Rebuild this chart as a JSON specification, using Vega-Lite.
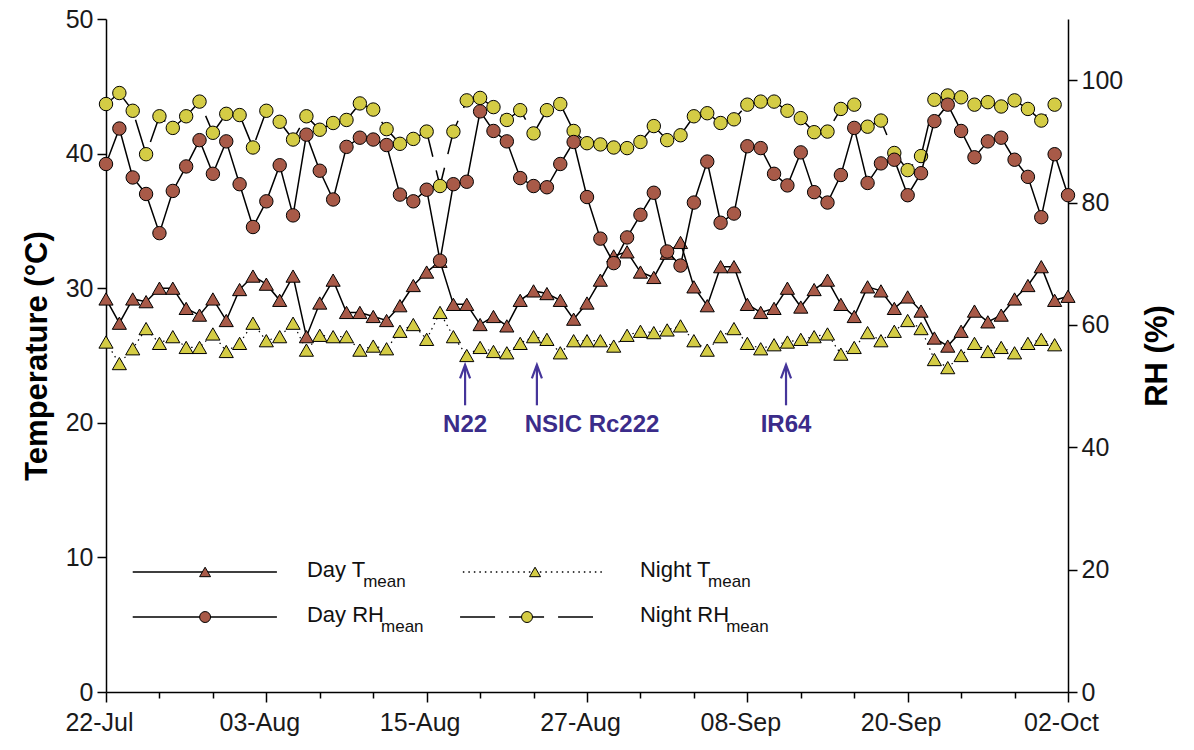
{
  "$schema": "https://vega.github.io/schema/vega-lite/v6.json",
  "width": 962,
  "height": 673,
  "autosize": "none",
  "padding": {"left": 106, "top": 19, "right": 126, "bottom": 58},
  "background": "white",
  "config": {
    "view": {"stroke": null},
    "font": "Liberation Sans",
    "axis": {"grid": false, "domainColor": "#000", "domainWidth": 1.5, "tickColor": "#000", "tickWidth": 1.5, "labelColor": "#1a1a1a", "titleColor": "#000", "labelFont": "Liberation Sans", "titleFont": "Liberation Sans", "labelFontSize": 25, "titleFontSize": 31, "titleFontWeight": "bold"}
  },
  "datasets": {
    "daily": [
      {"date": "2013-07-22T00:00", "dayT": 29.2, "nightT": 26.0, "dayRH": 86.3, "nightRH": 96.1},
      {"date": "2013-07-23T00:00", "dayT": 27.4, "nightT": 24.4, "dayRH": 92.1, "nightRH": 97.9},
      {"date": "2013-07-24T00:00", "dayT": 29.2, "nightT": 25.5, "dayRH": 84.1, "nightRH": 95.0},
      {"date": "2013-07-25T00:00", "dayT": 29.0, "nightT": 27.0, "dayRH": 81.4, "nightRH": 87.9},
      {"date": "2013-07-26T00:00", "dayT": 30.0, "nightT": 25.9, "dayRH": 75.0, "nightRH": 94.1},
      {"date": "2013-07-27T00:00", "dayT": 30.0, "nightT": 26.4, "dayRH": 81.9, "nightRH": 92.2},
      {"date": "2013-07-28T00:00", "dayT": 28.5, "nightT": 25.6, "dayRH": 85.9, "nightRH": 94.1},
      {"date": "2013-07-29T00:00", "dayT": 28.0, "nightT": 25.6, "dayRH": 90.2, "nightRH": 96.5},
      {"date": "2013-07-30T00:00", "dayT": 29.2, "nightT": 26.6, "dayRH": 84.7, "nightRH": 91.4},
      {"date": "2013-07-31T00:00", "dayT": 27.6, "nightT": 25.3, "dayRH": 90.0, "nightRH": 94.5},
      {"date": "2013-08-01T00:00", "dayT": 29.9, "nightT": 25.9, "dayRH": 83.0, "nightRH": 94.3},
      {"date": "2013-08-02T00:00", "dayT": 30.9, "nightT": 27.4, "dayRH": 76.0, "nightRH": 89.0},
      {"date": "2013-08-03T00:00", "dayT": 30.3, "nightT": 26.1, "dayRH": 80.2, "nightRH": 95.0},
      {"date": "2013-08-04T00:00", "dayT": 29.1, "nightT": 26.4, "dayRH": 86.1, "nightRH": 93.2},
      {"date": "2013-08-05T00:00", "dayT": 30.9, "nightT": 27.4, "dayRH": 77.9, "nightRH": 90.3},
      {"date": "2013-08-06T00:00", "dayT": 26.4, "nightT": 25.4, "dayRH": 91.1, "nightRH": 94.1},
      {"date": "2013-08-07T00:00", "dayT": 28.9, "nightT": 26.5, "dayRH": 85.2, "nightRH": 91.9},
      {"date": "2013-08-08T00:00", "dayT": 30.6, "nightT": 26.4, "dayRH": 80.5, "nightRH": 93.0},
      {"date": "2013-08-09T00:00", "dayT": 28.2, "nightT": 26.4, "dayRH": 89.1, "nightRH": 93.5},
      {"date": "2013-08-10T00:00", "dayT": 28.2, "nightT": 25.4, "dayRH": 90.6, "nightRH": 96.2},
      {"date": "2013-08-11T00:00", "dayT": 27.9, "nightT": 25.7, "dayRH": 90.3, "nightRH": 95.2},
      {"date": "2013-08-12T00:00", "dayT": 27.6, "nightT": 25.5, "dayRH": 89.4, "nightRH": 92.0},
      {"date": "2013-08-13T00:00", "dayT": 28.7, "nightT": 26.8, "dayRH": 81.3, "nightRH": 89.6},
      {"date": "2013-08-14T00:00", "dayT": 30.2, "nightT": 27.3, "dayRH": 80.2, "nightRH": 90.4},
      {"date": "2013-08-15T00:00", "dayT": 31.2, "nightT": 26.2, "dayRH": 82.1, "nightRH": 91.6},
      {"date": "2013-08-16T00:00", "dayT": 32.0, "nightT": 28.2, "dayRH": 70.5, "nightRH": 82.7},
      {"date": "2013-08-17T00:00", "dayT": 28.8, "nightT": 26.4, "dayRH": 83.0, "nightRH": 91.6},
      {"date": "2013-08-18T00:00", "dayT": 28.8, "nightT": 25.0, "dayRH": 83.4, "nightRH": 96.7},
      {"date": "2013-08-19T00:00", "dayT": 27.3, "nightT": 25.6, "dayRH": 94.9, "nightRH": 97.1},
      {"date": "2013-08-20T00:00", "dayT": 27.9, "nightT": 25.3, "dayRH": 91.7, "nightRH": 95.6},
      {"date": "2013-08-21T00:00", "dayT": 27.2, "nightT": 25.2, "dayRH": 90.0, "nightRH": 93.5},
      {"date": "2013-08-22T00:00", "dayT": 29.1, "nightT": 25.9, "dayRH": 84.0, "nightRH": 95.1},
      {"date": "2013-08-23T00:00", "dayT": 29.8, "nightT": 26.4, "dayRH": 82.7, "nightRH": 91.3},
      {"date": "2013-08-24T00:00", "dayT": 29.6, "nightT": 26.2, "dayRH": 82.5, "nightRH": 95.1},
      {"date": "2013-08-25T00:00", "dayT": 29.1, "nightT": 25.2, "dayRH": 86.3, "nightRH": 96.1},
      {"date": "2013-08-26T00:00", "dayT": 27.7, "nightT": 26.1, "dayRH": 89.9, "nightRH": 91.7},
      {"date": "2013-08-27T00:00", "dayT": 28.9, "nightT": 26.1, "dayRH": 80.9, "nightRH": 89.7},
      {"date": "2013-08-28T00:00", "dayT": 30.6, "nightT": 26.1, "dayRH": 74.1, "nightRH": 89.5},
      {"date": "2013-08-29T00:00", "dayT": 32.4, "nightT": 25.7, "dayRH": 70.1, "nightRH": 89.0},
      {"date": "2013-08-30T00:00", "dayT": 32.7, "nightT": 26.5, "dayRH": 74.3, "nightRH": 88.9},
      {"date": "2013-08-31T00:00", "dayT": 31.2, "nightT": 26.8, "dayRH": 78.0, "nightRH": 89.9},
      {"date": "2013-09-01T00:00", "dayT": 30.8, "nightT": 26.7, "dayRH": 81.6, "nightRH": 92.5},
      {"date": "2013-09-02T00:00", "dayT": 32.6, "nightT": 26.9, "dayRH": 72.0, "nightRH": 90.2},
      {"date": "2013-09-03T00:00", "dayT": 33.4, "nightT": 27.2, "dayRH": 69.7, "nightRH": 91.0},
      {"date": "2013-09-04T00:00", "dayT": 30.1, "nightT": 26.1, "dayRH": 80.0, "nightRH": 94.1},
      {"date": "2013-09-05T00:00", "dayT": 28.7, "nightT": 25.4, "dayRH": 86.7, "nightRH": 94.6},
      {"date": "2013-09-06T00:00", "dayT": 31.6, "nightT": 26.4, "dayRH": 76.7, "nightRH": 93.0},
      {"date": "2013-09-07T00:00", "dayT": 31.6, "nightT": 27.0, "dayRH": 78.2, "nightRH": 93.6},
      {"date": "2013-09-08T00:00", "dayT": 28.8, "nightT": 25.9, "dayRH": 89.2, "nightRH": 96.0},
      {"date": "2013-09-09T00:00", "dayT": 28.2, "nightT": 25.5, "dayRH": 88.9, "nightRH": 96.5},
      {"date": "2013-09-10T00:00", "dayT": 28.5, "nightT": 25.8, "dayRH": 84.7, "nightRH": 96.5},
      {"date": "2013-09-11T00:00", "dayT": 30.0, "nightT": 26.0, "dayRH": 82.8, "nightRH": 95.0},
      {"date": "2013-09-12T00:00", "dayT": 28.6, "nightT": 26.2, "dayRH": 88.2, "nightRH": 93.8},
      {"date": "2013-09-13T00:00", "dayT": 29.9, "nightT": 26.4, "dayRH": 81.7, "nightRH": 91.5},
      {"date": "2013-09-14T00:00", "dayT": 30.6, "nightT": 26.6, "dayRH": 80.0, "nightRH": 91.6},
      {"date": "2013-09-15T00:00", "dayT": 28.8, "nightT": 25.1, "dayRH": 84.5, "nightRH": 95.3},
      {"date": "2013-09-16T00:00", "dayT": 27.9, "nightT": 25.6, "dayRH": 92.2, "nightRH": 96.0},
      {"date": "2013-09-17T00:00", "dayT": 30.1, "nightT": 26.7, "dayRH": 83.2, "nightRH": 92.4},
      {"date": "2013-09-18T00:00", "dayT": 29.8, "nightT": 26.1, "dayRH": 86.4, "nightRH": 93.4},
      {"date": "2013-09-19T00:00", "dayT": 28.5, "nightT": 26.8, "dayRH": 87.0, "nightRH": 88.1},
      {"date": "2013-09-20T00:00", "dayT": 29.35, "nightT": 27.6, "dayRH": 81.2, "nightRH": 85.3},
      {"date": "2013-09-21T00:00", "dayT": 28.3, "nightT": 27.0, "dayRH": 84.8, "nightRH": 87.6},
      {"date": "2013-09-22T00:00", "dayT": 26.3, "nightT": 24.7, "dayRH": 93.3, "nightRH": 96.8},
      {"date": "2013-09-23T00:00", "dayT": 25.7, "nightT": 24.1, "dayRH": 96.0, "nightRH": 97.5},
      {"date": "2013-09-24T00:00", "dayT": 26.8, "nightT": 25.0, "dayRH": 91.7, "nightRH": 97.2},
      {"date": "2013-09-25T00:00", "dayT": 28.3, "nightT": 25.9, "dayRH": 87.4, "nightRH": 96.0},
      {"date": "2013-09-26T00:00", "dayT": 27.5, "nightT": 25.3, "dayRH": 90.0, "nightRH": 96.4},
      {"date": "2013-09-27T00:00", "dayT": 28.0, "nightT": 25.6, "dayRH": 90.6, "nightRH": 95.7},
      {"date": "2013-09-28T00:00", "dayT": 29.2, "nightT": 25.2, "dayRH": 87.0, "nightRH": 96.7},
      {"date": "2013-09-29T00:00", "dayT": 30.2, "nightT": 25.9, "dayRH": 84.2, "nightRH": 95.3},
      {"date": "2013-09-30T00:00", "dayT": 31.6, "nightT": 26.2, "dayRH": 77.6, "nightRH": 93.4},
      {"date": "2013-10-01T00:00", "dayT": 29.1, "nightT": 25.8, "dayRH": 87.9, "nightRH": 96.0},
      {"date": "2013-10-02T00:00", "dayT": 29.4, "nightT": null, "dayRH": 81.2, "nightRH": null}
    ],
    "annot": [
      {"label": "N22", "date": "2013-08-17T21:00", "textDate": "2013-08-17T21:00", "top": 24.2, "bottom": 21.3, "head": 23.8, "textT": 19.85},
      {"label": "NSIC Rc222", "date": "2013-08-23T06:00", "textDate": "2013-08-27T09:00", "top": 24.2, "bottom": 21.3, "head": 23.8, "textT": 19.85},
      {"label": "IR64", "date": "2013-09-10T21:30", "textDate": "2013-09-10T21:30", "top": 24.2, "bottom": 21.3, "head": 23.8, "textT": 19.85}
    ],
    "legLines": [
      {"series": "Day T", "start": "2013-07-24T00:00", "end": "2013-08-03T19:00", "T": 8.92},
      {"series": "Night T", "start": "2013-08-17T17:00", "end": "2013-08-28T08:30", "T": 8.92},
      {"series": "Day RH", "start": "2013-07-24T00:00", "end": "2013-08-03T19:00", "T": 5.57},
      {"series": "Night RH", "start": "2013-08-17T12:00", "end": "2013-08-27T10:45", "T": 5.57}
    ],
    "legSym": [
      {"series": "Day T", "date": "2013-07-29T10:00", "T": 8.92},
      {"series": "Night T", "date": "2013-08-23T02:40", "T": 8.92},
      {"series": "Day RH", "date": "2013-07-29T10:00", "T": 5.57},
      {"series": "Night RH", "date": "2013-08-22T12:15", "T": 5.57}
    ],
    "legText": [
      {"text": "Day T", "date": "2013-08-06T01:00", "T": 8.92, "kind": "main"},
      {"text": "mean", "date": "2013-08-10T06:00", "T": 8.92, "kind": "sub"},
      {"text": "Night T", "date": "2013-08-30T23:00", "T": 8.92, "kind": "main"},
      {"text": "mean", "date": "2013-09-05T01:30", "T": 8.92, "kind": "sub"},
      {"text": "Day RH", "date": "2013-08-06T01:00", "T": 5.57, "kind": "main"},
      {"text": "mean", "date": "2013-08-11T14:00", "T": 5.57, "kind": "sub"},
      {"text": "Night RH", "date": "2013-08-30T23:00", "T": 5.57, "kind": "main"},
      {"text": "mean", "date": "2013-09-06T10:00", "T": 5.57, "kind": "sub"}
    ]
  },
  "layer": [
    {
      "data": {"name": "daily"},
      "mark": {"type": "line", "stroke": "#000", "strokeWidth": 1.2, "strokeDash": [1.5, 4]},
      "encoding": {
        "x": {
          "field": "date", "type": "temporal",
          "scale": {"domain": [{"year": 2013, "month": 7, "date": 22}, {"year": 2013, "month": 10, "date": 2}]},
          "axis": {
            "orient": "bottom", "title": null, "labelOverlap": false, "labelFlush": false, "labelPadding": 8, "labelOffset": -7,
            "values": [
              {"year": 2013, "month": 7, "date": 22}, {"year": 2013, "month": 7, "date": 24}, {"year": 2013, "month": 7, "date": 26}, {"year": 2013, "month": 7, "date": 28}, {"year": 2013, "month": 7, "date": 30},
              {"year": 2013, "month": 8, "date": 1}, {"year": 2013, "month": 8, "date": 3}, {"year": 2013, "month": 8, "date": 5}, {"year": 2013, "month": 8, "date": 7}, {"year": 2013, "month": 8, "date": 9},
              {"year": 2013, "month": 8, "date": 11}, {"year": 2013, "month": 8, "date": 13}, {"year": 2013, "month": 8, "date": 15}, {"year": 2013, "month": 8, "date": 17}, {"year": 2013, "month": 8, "date": 19},
              {"year": 2013, "month": 8, "date": 21}, {"year": 2013, "month": 8, "date": 23}, {"year": 2013, "month": 8, "date": 25}, {"year": 2013, "month": 8, "date": 27}, {"year": 2013, "month": 8, "date": 29},
              {"year": 2013, "month": 8, "date": 31}, {"year": 2013, "month": 9, "date": 2}, {"year": 2013, "month": 9, "date": 4}, {"year": 2013, "month": 9, "date": 6}, {"year": 2013, "month": 9, "date": 8},
              {"year": 2013, "month": 9, "date": 10}, {"year": 2013, "month": 9, "date": 12}, {"year": 2013, "month": 9, "date": 14}, {"year": 2013, "month": 9, "date": 16}, {"year": 2013, "month": 9, "date": 18},
              {"year": 2013, "month": 9, "date": 20}, {"year": 2013, "month": 9, "date": 22}, {"year": 2013, "month": 9, "date": 24}, {"year": 2013, "month": 9, "date": 26}, {"year": 2013, "month": 9, "date": 28},
              {"year": 2013, "month": 9, "date": 30}, {"year": 2013, "month": 10, "date": 2}
            ],
            "labelExpr": "(round((datum.value - datetime(2013,6,22))/86400000) % 12 === 0) ? timeFormat(datum.value, '%d-%b') : ''",
            "tickSize": {"condition": {"test": "round((datum.value - datetime(2013,6,22))/86400000) % 12 === 0", "value": 10}, "value": 6}
          }
        },
        "y": {
          "field": "nightT", "type": "quantitative",
          "scale": {"domain": [0, 50], "nice": false},
          "axis": {"orient": "left", "values": [0, 10, 20, 30, 40, 50], "tickSize": 9, "labelPadding": 4, "title": "Temperature (°C)", "titlePadding": 12}
        }
      }
    },
    {
      "data": {"name": "daily"},
      "mark": {"type": "point", "shape": "triangle-up", "filled": true, "fill": "#d4cc45", "stroke": "#000", "strokeWidth": 1, "size": 200, "opacity": 1},
      "encoding": {
        "x": {"field": "date", "type": "temporal", "scale": {"domain": [{"year": 2013, "month": 7, "date": 22}, {"year": 2013, "month": 10, "date": 2}]}},
        "y": {"field": "nightT", "type": "quantitative", "scale": {"domain": [0, 50], "nice": false}, "axis": null}
      }
    },
    {
      "data": {"name": "daily"},
      "mark": {"type": "line", "stroke": "#000", "strokeWidth": 1.5},
      "encoding": {
        "x": {"field": "date", "type": "temporal", "scale": {"domain": [{"year": 2013, "month": 7, "date": 22}, {"year": 2013, "month": 10, "date": 2}]}},
        "y": {"field": "dayT", "type": "quantitative", "scale": {"domain": [0, 50], "nice": false}, "axis": null}
      }
    },
    {
      "data": {"name": "daily"},
      "mark": {"type": "point", "shape": "triangle-up", "filled": true, "fill": "#a85a48", "stroke": "#000", "strokeWidth": 1, "size": 200, "opacity": 1},
      "encoding": {
        "x": {"field": "date", "type": "temporal", "scale": {"domain": [{"year": 2013, "month": 7, "date": 22}, {"year": 2013, "month": 10, "date": 2}]}},
        "y": {"field": "dayT", "type": "quantitative", "scale": {"domain": [0, 50], "nice": false}, "axis": null}
      }
    },
    {
      "data": {"name": "daily"},
      "mark": {"type": "line", "stroke": "#000", "strokeWidth": 1.5, "strokeDash": [35, 14]},
      "encoding": {
        "x": {"field": "date", "type": "temporal", "scale": {"domain": [{"year": 2013, "month": 7, "date": 22}, {"year": 2013, "month": 10, "date": 2}]}},
        "y": {
          "field": "nightRH", "type": "quantitative",
          "scale": {"domain": [0, 110], "nice": false},
          "axis": {"orient": "right", "values": [0, 20, 40, 60, 80, 100], "tickSize": 9, "labelPadding": 4, "title": "RH (%)", "titleAngle": 270, "titleBaseline": "top", "titlePadding": 20}
        }
      }
    },
    {
      "data": {"name": "daily"},
      "mark": {"type": "point", "shape": "circle", "filled": true, "fill": "#d4cc45", "stroke": "#000", "strokeWidth": 1, "size": 180, "opacity": 1},
      "encoding": {
        "x": {"field": "date", "type": "temporal", "scale": {"domain": [{"year": 2013, "month": 7, "date": 22}, {"year": 2013, "month": 10, "date": 2}]}},
        "y": {"field": "nightRH", "type": "quantitative", "scale": {"domain": [0, 110], "nice": false}, "axis": null}
      }
    },
    {
      "data": {"name": "daily"},
      "mark": {"type": "line", "stroke": "#000", "strokeWidth": 1.5},
      "encoding": {
        "x": {"field": "date", "type": "temporal", "scale": {"domain": [{"year": 2013, "month": 7, "date": 22}, {"year": 2013, "month": 10, "date": 2}]}},
        "y": {"field": "dayRH", "type": "quantitative", "scale": {"domain": [0, 110], "nice": false}, "axis": null}
      }
    },
    {
      "data": {"name": "daily"},
      "mark": {"type": "point", "shape": "circle", "filled": true, "fill": "#a85a48", "stroke": "#000", "strokeWidth": 1, "size": 180, "opacity": 1},
      "encoding": {
        "x": {"field": "date", "type": "temporal", "scale": {"domain": [{"year": 2013, "month": 7, "date": 22}, {"year": 2013, "month": 10, "date": 2}]}},
        "y": {"field": "dayRH", "type": "quantitative", "scale": {"domain": [0, 110], "nice": false}, "axis": null}
      }
    },
    {
      "data": {"name": "annot"},
      "mark": {"type": "rule", "stroke": "#45359a", "strokeWidth": 2.2},
      "encoding": {
        "x": {"field": "date", "type": "temporal", "scale": {"domain": [{"year": 2013, "month": 7, "date": 22}, {"year": 2013, "month": 10, "date": 2}]}},
        "y": {"field": "bottom", "type": "quantitative", "scale": {"domain": [0, 50], "nice": false}, "axis": null},
        "y2": {"field": "top"}
      }
    },
    {
      "data": {"name": "annot"},
      "mark": {"type": "point", "shape": "M-0.75,1L0,-1L0.75,1", "filled": false, "stroke": "#45359a", "strokeWidth": 2.2, "size": 180, "opacity": 1},
      "encoding": {
        "x": {"field": "date", "type": "temporal", "scale": {"domain": [{"year": 2013, "month": 7, "date": 22}, {"year": 2013, "month": 10, "date": 2}]}},
        "y": {"field": "head", "type": "quantitative", "scale": {"domain": [0, 50], "nice": false}, "axis": null}
      }
    },
    {
      "data": {"name": "annot"},
      "mark": {"type": "text", "font": "Liberation Sans", "fontSize": 24, "fontWeight": "bold", "color": "#3b2c8a", "align": "center", "baseline": "middle"},
      "encoding": {
        "x": {"field": "textDate", "type": "temporal", "scale": {"domain": [{"year": 2013, "month": 7, "date": 22}, {"year": 2013, "month": 10, "date": 2}]}},
        "y": {"field": "textT", "type": "quantitative", "scale": {"domain": [0, 50], "nice": false}, "axis": null},
        "text": {"field": "label"}
      }
    },
    {
      "data": {"name": "legLines"},
      "mark": {"type": "rule", "stroke": "#000", "strokeWidth": 1.5},
      "encoding": {
        "x": {"field": "start", "type": "temporal", "scale": {"domain": [{"year": 2013, "month": 7, "date": 22}, {"year": 2013, "month": 10, "date": 2}]}},
        "x2": {"field": "end"},
        "y": {"field": "T", "type": "quantitative", "scale": {"domain": [0, 50], "nice": false}, "axis": null},
        "strokeDash": {"field": "series", "type": "nominal", "scale": {"domain": ["Day T", "Night T", "Day RH", "Night RH"], "range": [[1, 0], [1.5, 4], [1, 0], [35, 14]]}, "legend": null}
      }
    },
    {
      "data": {"name": "legSym"},
      "mark": {"type": "point", "filled": true, "stroke": "#000", "strokeWidth": 1, "size": 120, "opacity": 1},
      "encoding": {
        "x": {"field": "date", "type": "temporal", "scale": {"domain": [{"year": 2013, "month": 7, "date": 22}, {"year": 2013, "month": 10, "date": 2}]}},
        "y": {"field": "T", "type": "quantitative", "scale": {"domain": [0, 50], "nice": false}, "axis": null},
        "shape": {"field": "series", "type": "nominal", "scale": {"domain": ["Day T", "Night T", "Day RH", "Night RH"], "range": ["triangle-up", "triangle-up", "circle", "circle"]}, "legend": null},
        "fill": {"field": "series", "type": "nominal", "scale": {"domain": ["Day T", "Night T", "Day RH", "Night RH"], "range": ["#a85a48", "#d4cc45", "#a85a48", "#d4cc45"]}, "legend": null}
      }
    },
    {
      "data": {"name": "legText"},
      "transform": [{"filter": "datum.kind === 'main'"}],
      "mark": {"type": "text", "font": "Liberation Sans", "fontSize": 22, "color": "#111", "align": "left", "baseline": "middle", "dy": -2},
      "encoding": {
        "x": {"field": "date", "type": "temporal", "scale": {"domain": [{"year": 2013, "month": 7, "date": 22}, {"year": 2013, "month": 10, "date": 2}]}},
        "y": {"field": "T", "type": "quantitative", "scale": {"domain": [0, 50], "nice": false}, "axis": null},
        "text": {"field": "text"}
      }
    },
    {
      "data": {"name": "legText"},
      "transform": [{"filter": "datum.kind === 'sub'"}],
      "mark": {"type": "text", "font": "Liberation Sans", "fontSize": 17, "color": "#111", "align": "left", "baseline": "middle", "dy": 10},
      "encoding": {
        "x": {"field": "date", "type": "temporal", "scale": {"domain": [{"year": 2013, "month": 7, "date": 22}, {"year": 2013, "month": 10, "date": 2}]}},
        "y": {"field": "T", "type": "quantitative", "scale": {"domain": [0, 50], "nice": false}, "axis": null},
        "text": {"field": "text"}
      }
    }
  ],
  "resolve": {"scale": {"y": "independent"}}
}
